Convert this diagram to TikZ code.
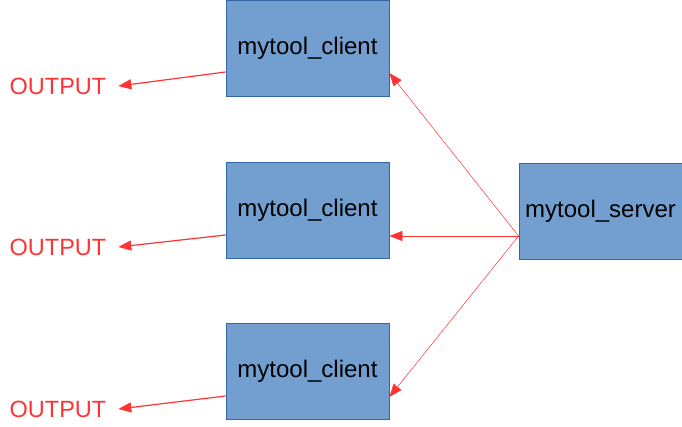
\documentclass[tikz,border=0pt]{standalone}
\usepackage{fontspec}
\setmainfont{Liberation Sans}
\usetikzlibrary{arrows.meta}
\definecolor{boxfill}{HTML}{729FCF}
\definecolor{boxline}{HTML}{3465A4}
\definecolor{arrred}{HTML}{FF3333}
\begin{document}
\begin{tikzpicture}[x=1pt,y=-1pt,
  box/.style={draw=boxline,fill=boxfill,line width=0.8pt,minimum width=163pt,minimum height=96pt,inner sep=0pt,font=\fontsize{24}{28}\selectfont,text=black},
  outlbl/.style={text=arrred,inner sep=0pt,outer xsep=12pt,font=\fontsize{23.5}{28}\selectfont},
  thinarr/.style={draw=arrred,line width=0.5pt,-{Triangle[length=13pt,width=10pt]}},
  thickarr/.style={draw=arrred,line width=1.2pt,-{Triangle[length=13pt,width=10pt]}}]
\useasboundingbox (0,0) rectangle (682,427);
\node[box] (c1) at (307.5,48) {mytool\_client};
\node[box] (c2) at (307.5,210) {mytool\_client};
\node[box] (c3) at (307.5,371) {mytool\_client};
\node[box] (srv) at (600.5,211) {mytool\_server};
\node[outlbl] (o1) at (58,86) {OUTPUT};
\node[outlbl] (o2) at (58,247) {OUTPUT};
\node[outlbl] (o3) at (58,409) {OUTPUT};
\coordinate (s) at ([yshift=-25pt]srv.west);
\coordinate (t1) at ([yshift=-25pt]c1.east);
\coordinate (t2) at ([yshift=-26pt]c2.east);
\coordinate (t3) at ([yshift=-26pt]c3.east);
\coordinate (f1) at ([yshift=-24pt]c1.west);
\coordinate (f2) at ([yshift=-25pt]c2.west);
\coordinate (f3) at ([yshift=-25pt]c3.west);
\draw[thinarr] (s) -- (t1);
\draw[thinarr] (s) -- (t2);
\draw[thinarr] (s) -- (t3);
\draw[thickarr] (f1) -- (o1.east);
\draw[thickarr] (f2) -- (o2.east);
\draw[thickarr] (f3) -- (o3.east);
\end{tikzpicture}
\end{document}
